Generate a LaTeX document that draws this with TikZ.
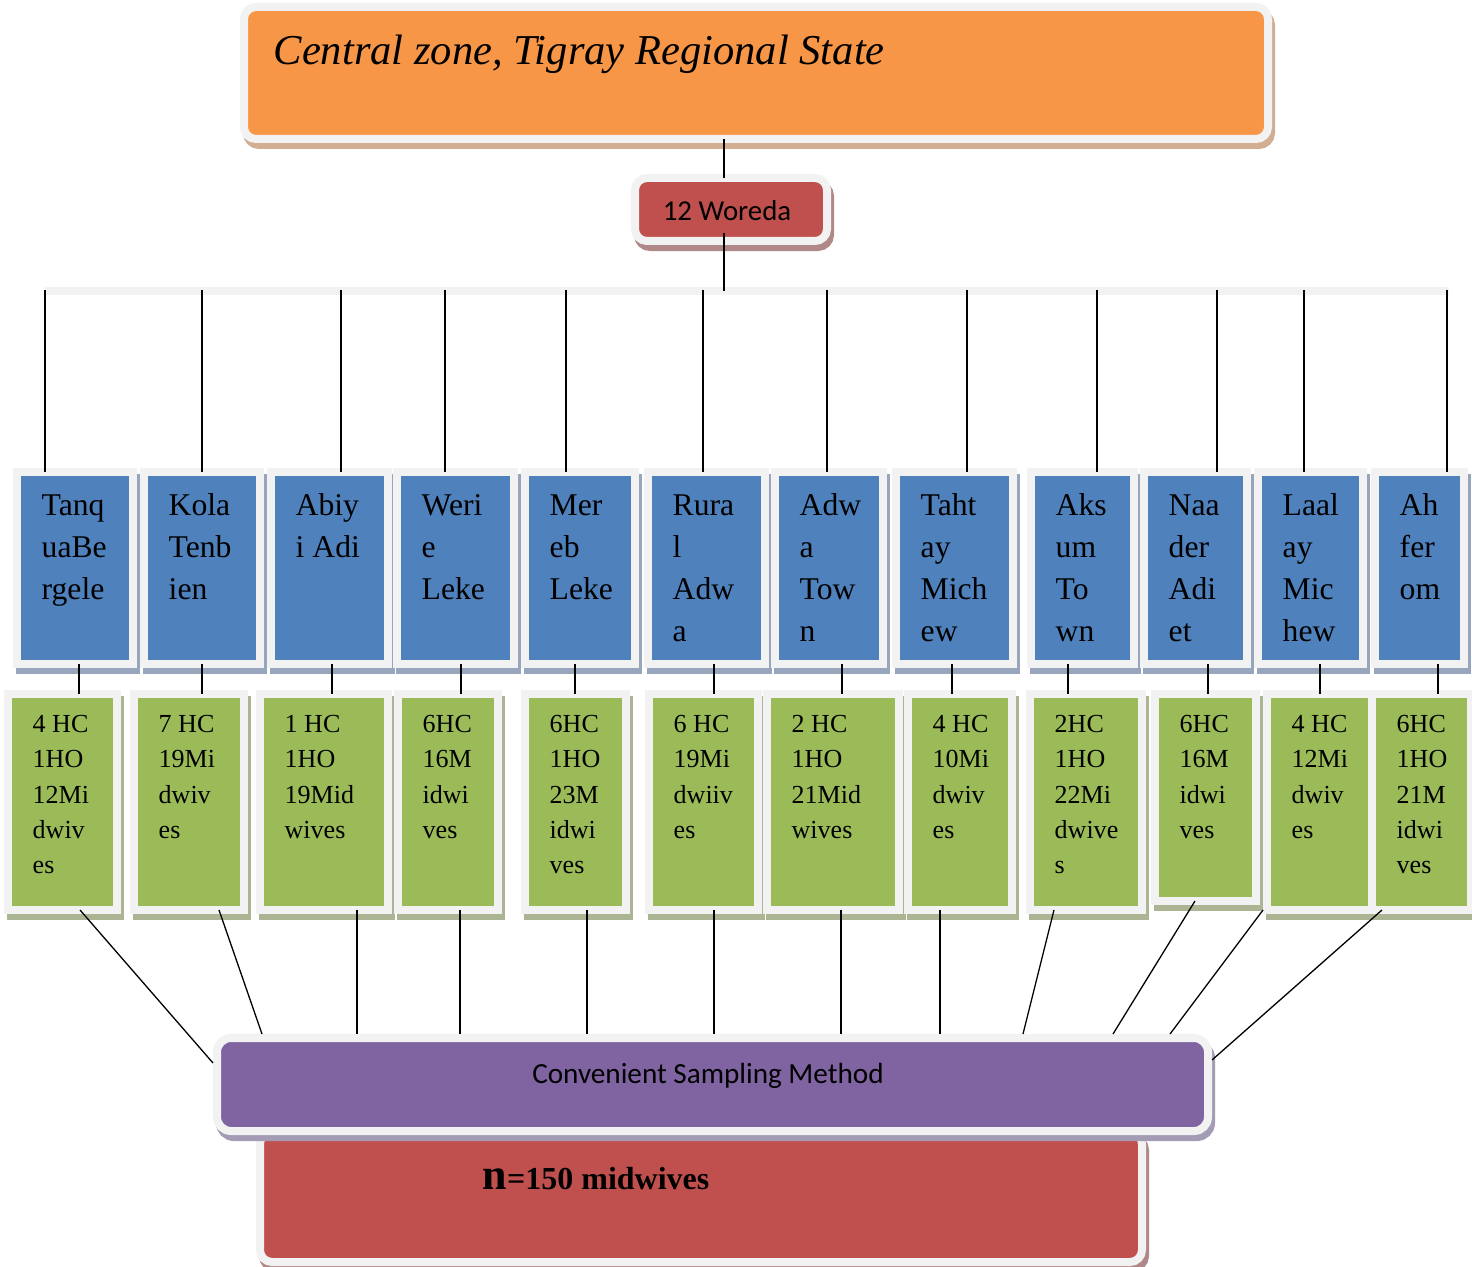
\documentclass[tikz,border=0pt]{standalone}
\usepackage{fontspec}
\setmainfont{Liberation Serif}
\newfontfamily\calfont{Carlito}
\usetikzlibrary{shadows,calc}
\definecolor{framec}{HTML}{F2F2F2}
\definecolor{corange}{HTML}{F79646}
\definecolor{cred}{HTML}{C0504D}
\definecolor{cblue}{HTML}{4F81BD}
\definecolor{cgreen}{HTML}{9BBB59}
\definecolor{cpurple}{HTML}{8064A2}
\definecolor{shorange}{HTML}{D2AE92}
\definecolor{shred}{HTML}{B08888}
\definecolor{shblue}{HTML}{97A6BD}
\definecolor{shgreen}{HTML}{ABB493}
\definecolor{shpurple}{HTML}{A39CB4}
\newcommand\mkbox[6]{\node[#1, minimum width={(#5-#3+8)*0.01cm}, minimum height={(#6-#4+8)*0.01cm}] (#2) at ({(#3+#5)/2},{(#4+#6)/2}) {};}
\tikzset{
 boxbase/.style={draw=framec, line width=0.08cm, inner sep=0pt, outer sep=0pt},
 shad/.style={drop shadow={shadow xshift=0.03cm, shadow yshift=-0.06cm, fill=#1, draw=#1, line width=0.08cm, opacity=1}},
 bluebox/.style={boxbase, fill=cblue, shad=shblue},
 greenbox/.style={boxbase, fill=cgreen, shad=shgreen},
 orangebox/.style={boxbase, fill=corange, rounded corners=0.12cm, shad=shorange},
 redbox/.style={boxbase, fill=cred, rounded corners=0.12cm, shad=shred},
 purplebox/.style={boxbase, fill=cpurple, rounded corners=0.14cm, shad=shpurple},
 btxt/.style={anchor=north west, inner sep=0pt, align=left, font=\fontsize{9}{11.95}\selectfont},
 gtxt/.style={anchor=north west, inner sep=0pt, align=left, font=\fontsize{7.4}{10}\selectfont},
 ln/.style={line width=0.02cm, black},
 lnthin/.style={line width=0.013cm, black},
 barline/.style={line width=0.08cm, framec},
}
\begin{document}
\begin{tikzpicture}[x=0.01cm, y=-0.01cm]
\useasboundingbox (0,0) rectangle (1472,1267);
% top
\mkbox{orangebox}{top}{248}{11}{1264}{135}
\node[anchor=base west, inner sep=0pt, font=\fontsize{12.1}{14}\selectfont\itshape] (ttl) at (273,65) {Central zone, Tigray Regional State};
\mkbox{redbox}{wor}{639}{182}{823}{237}
\node[anchor=base, inner sep=0pt, font=\calfont\fontsize{8.2}{10}\selectfont] (wt) at (727,221) {12 Woreda};
% blue boxes
\foreach \n/\a/\b in {b1/21/129, b2/148/256, b3/275/384, b4/401/510, b5/529/631, b6/652/761, b7/779/879, b8/900/1009, b9/1035/1130, b10/1148/1243, b11/1262/1359, b12/1379/1460}{
 \mkbox{bluebox}{\n}{\a}{476}{\b}{660}
}
% green boxes
\foreach \n/\a/\b/\h in {g1/12/113/906, g2/138/240/906, g3/264/384/906, g4/402/494/906, g5/529/622/906, g6/653/754/906, g7/771/895/906, g8/912/1008/906, g9/1034/1138/906, g10/1159/1252/897, g11/1271/1368/906, g12/1376/1467/906}{
 \mkbox{greenbox}{\n}{\a}{698}{\b}{\h}
}
% blue texts
\foreach \n/\t in {b1/{Tanq\\uaBe\\rgele}, b2/{Kola\\Tenb\\ien}, b3/{Abiy\\i Adi}, b4/{Weri\\e\\Leke}, b5/{Mer\\eb\\Leke}, b6/{Rura\\l\\Adw\\a}, b7/{Adw\\a\\Tow\\n}, b8/{Taht\\ay\\Mich\\ew}, b9/{Aks\\um\\To\\wn}, b10/{Naa\\der\\Adi\\et}, b11/{Laal\\ay\\Mic\\hew}, b12/{Ah\\fer\\om}}{
 \node[btxt] (\n t) at ($(\n.north west)+(24,13.6)$) {\strut\t};
}
% green texts
\foreach \n/\t in {g1/{4 HC\\1HO\\12Mi\\dwiv\\es}, g2/{7 HC\\19Mi\\dwiv\\es}, g3/{1 HC\\1HO\\19Mid\\wives}, g4/{6HC\\16M\\idwi\\ves}, g5/{6HC\\1HO\\23M\\idwi\\ves}, g6/{6 HC\\19Mi\\dwiiv\\es}, g7/{2 HC\\1HO\\21Mid\\wives}, g8/{4 HC\\10Mi\\dwiv\\es}, g9/{2HC\\1HO\\22Mi\\dwive\\s}, g10/{6HC\\16M\\idwi\\ves}, g11/{4 HC\\12Mi\\dwiv\\es}, g12/{6HC\\1HO\\21M\\idwi\\ves}}{
 \node[gtxt] (\n t) at ($(\n.north west)+(24,13.4)$) {\strut\t};
}
% bottom boxes
\mkbox{redbox}{res}{264}{1136}{1138}{1258}
\node[anchor=base west, inner sep=0pt, font=\bfseries] (rt) at (482,1189) {{\fontsize{12.5}{15}\selectfont n}{\fontsize{9.1}{11}\selectfont =150 midwives}};
\mkbox{purplebox}{pm}{221}{1042}{1204}{1127}
\node[anchor=base, inner sep=0pt, font=\calfont\fontsize{8.3}{10}\selectfont] (pt) at (708,1083) {Convenient Sampling Method};
% connectors top
\coordinate (cx) at (724,0);
\draw[ln] (top.south -| cx) -- (wor.north -| cx);
\coordinate (barL) at (45,291);
\coordinate (barR) at (1449,291);
\draw[barline] (barL) -- (barR);
\coordinate (wl) at (724,233);
\draw[ln] (wl) -- (wl |- barL);
\foreach \i/\x in {1/45, 2/202, 3/341, 4/445, 5/566, 6/703, 7/827, 8/967, 9/1097, 10/1217, 11/1304, 12/1447}{
 \coordinate (t\i) at (\x,290);
 \draw[ln] (t\i) -- (t\i |- b\i.north);
}
\foreach \i/\x in {1/79, 2/202, 3/332, 4/461, 5/575, 6/714, 7/842, 8/952, 9/1068, 10/1208, 11/1320, 12/1438}{
 \coordinate (m\i) at (\x,0);
 \draw[ln] (b\i.south -| m\i) -- (g\i.north -| m\i);
}
% connectors bottom
\coordinate (ptop) at ($(pm.north)+(0,-4)$);
\coordinate (pleft) at ($(pm.west)+(-4,0)$);
\coordinate (pright) at ($(pm.east)+(4,0)$);
\draw[lnthin] (g1.south -| 80,0) -- (pleft |- 0,1063);
\foreach \i/\xs/\xe in {2/219/262, 3/357/357, 4/460/460, 5/587/587, 6/714/714, 7/841/841, 8/940/940, 9/1054/1023, 10/1195/1113, 11/1263/1170}{
 \draw[lnthin] (g\i.south -| \xs,0) -- (ptop -| \xe,0);
}
\draw[lnthin] (g12.south -| 1382,0) -- (pright |- 0,1060);
\end{tikzpicture}
\end{document}
